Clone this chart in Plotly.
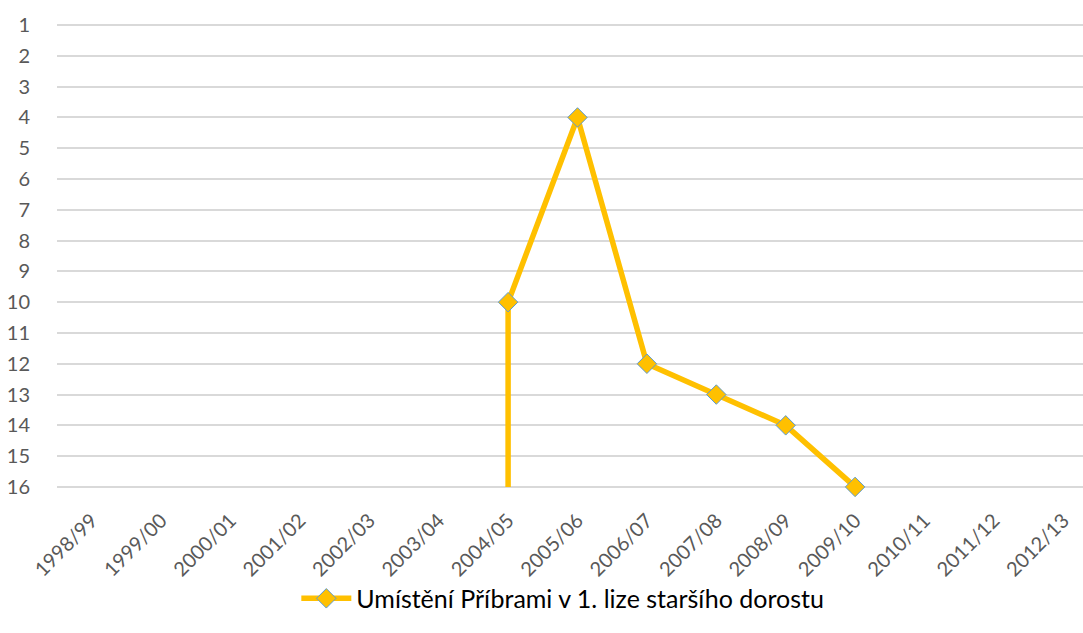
import plotly.graph_objects as go

seasons = ["1998/99", "1999/00", "2000/01", "2001/02", "2002/03", "2003/04", "2004/05",
           "2005/06", "2006/07", "2007/08", "2008/09", "2009/10", "2010/11", "2011/12", "2012/13"]
placed_seasons = ["2004/05", "2005/06", "2006/07", "2007/08", "2008/09", "2009/10"]
placement = [10, 4, 12, 13, 14, 16]
# vertical drop segment drawn in the source chart at the first season
drop_season = ["2004/05", "2004/05"]
drop_values = [16, 10]
series_name = "Umístění Příbrami v 1. lize staršího dorostu"

line_color = "#FFC000"
marker_edge = "#5B9BD5"

fig = go.Figure()
fig.add_trace(go.Scatter(
    x=drop_season, y=drop_values, mode="lines",
    line=dict(color=line_color, width=5.5),
    showlegend=False, hoverinfo="skip", cliponaxis=False,
))
fig.add_trace(go.Scatter(
    x=placed_seasons, y=placement, mode="lines+markers", name=series_name,
    line=dict(color=line_color, width=5.5), cliponaxis=False,
    marker=dict(symbol="diamond", size=15, color=line_color,
                line=dict(color=marker_edge, width=1)),
))

n = len(seasons)
pad = 0.1
fig.update_layout(
    width=1083, height=633,
    margin=dict(l=57, r=0, t=22, b=143),
    paper_bgcolor="white", plot_bgcolor="white",
    font=dict(family="Lato, 'Open Sans', sans-serif", size=20, color="#595959"),
    xaxis=dict(
        type="category", categoryorder="array", categoryarray=seasons,
        range=[-0.5, n - 0.5 - 15 / 69.4],
        tickangle=-45, showgrid=False, zeroline=False, showline=False,
        ticks="outside", ticklen=10, tickcolor="rgba(0,0,0,0)",
        tickfont=dict(size=20, color="#595959"), automargin=False,
    ),
    yaxis=dict(
        range=[16 + pad, 1 - pad], tickmode="array", tickvals=list(range(1, 17)),
        showgrid=True, gridcolor="#D9D9D9", gridwidth=1.5,
        zeroline=False, showline=False, ticks="outside", ticklen=22,
        tickcolor="rgba(0,0,0,0)", automargin=False,
        tickfont=dict(size=20, color="#595959"),
    ),
    showlegend=True,
    legend=dict(
        orientation="h", x=0.493, xanchor="center", y=-0.232, yanchor="middle",
        font=dict(size=25, color="#000000"), itemwidth=50,
        bgcolor="rgba(0,0,0,0)",
    ),
)

fig.write_html("out.html", config={"displayModeBar": False},
               post_script="document.body.style.margin='0';")
